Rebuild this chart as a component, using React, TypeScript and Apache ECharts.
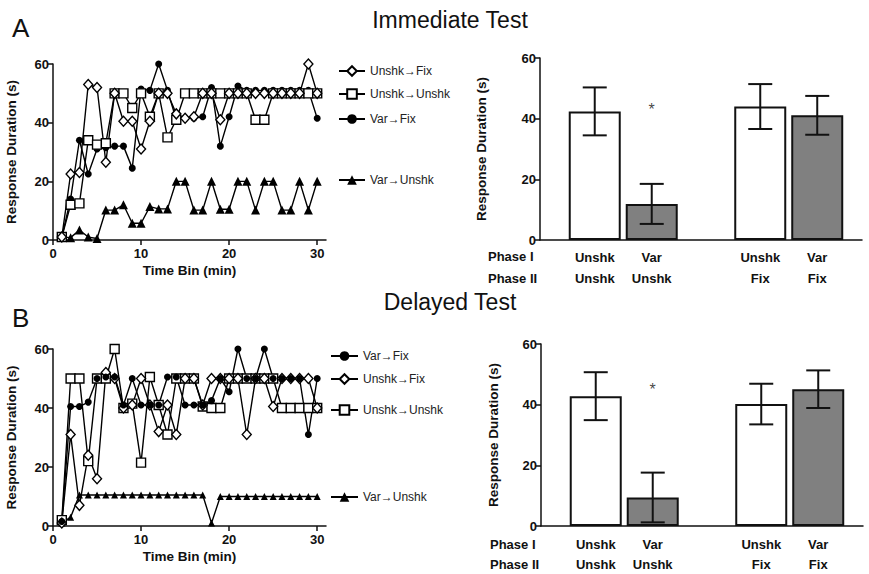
import React, { useEffect, useRef } from 'react';
import * as echarts from 'echarts';

// ---------- Data ----------
const timeBins = [1, 2, 3, 4, 5, 6, 7, 8, 9, 10, 11, 12, 13, 14, 15, 16, 17, 18, 19, 20, 21, 22, 23, 24, 25, 26, 27, 28, 29, 30];

// A: Immediate Test (line panel)
const immUnshkFix = [1, 22.5, 23, 53, 52, 26.5, 50, 40.5, 40.5, 31, 40.5, 50, 50, 43, 41.5, 42, 50, 50, 41, 50, 50, 50, 50, 50, 50, 50, 50, 50, 60, 50];
const immUnshkUnshk = [1, 12, 12.5, 34, 32.5, 33, 50, 50, 45, 50, 42, 50, 35, 41, 50, 50, 50, 50, 50, 50, 50, 50, 41, 41, 50, 50, 50, 50, 50, 50];
const immVarFix = [1, 14, 34, 22.5, 31, 31.5, 32, 32, 24.5, 51.5, 51, 60, 51, 41, 41.5, 41.5, 42, 52, 32, 42, 52.5, 51, 51, 51, 51, 51, 51, 51, 51, 41.5];
const immVarUnshk = [1, 0.8, 3.4, 1, 0.5, 10.2, 10.2, 12, 5.7, 5.7, 11.4, 10.6, 10.6, 20, 20, 10.2, 10.2, 20, 10.5, 10.5, 20, 20, 10.2, 20, 20, 10.2, 10.2, 20, 10.2, 20];

// B: Delayed Test (line panel)
const delVarFix = [1.5, 40.5, 40.5, 42, 50, 50.5, 50.5, 41, 50, 41, 41, 41, 50.5, 50.5, 41, 41, 41, 42.5, 50, 45.5, 60, 50, 50, 60, 50, 50, 50, 50, 31, 50];
const delUnshkFix = [1, 31, 7, 24, 16, 52, 50, 40, 41, 50, 41, 32, 41, 31, 50, 50, 41, 50, 50, 50, 50, 31, 50, 50, 40.5, 50, 50, 50, 50, 40];
const delUnshkUnshk = [2, 50, 50, 22, 50, 50, 60, 40, 41.5, 21.5, 50.5, 41, 31, 50, 50, 50, 40.5, 40, 40, 50, 50, 50, 50, 50, 50, 40, 40, 40, 40, 40];
const delVarUnshk = [1, 3, 10.5, 10.5, 10.5, 10.5, 10.5, 10.5, 10.5, 10.5, 10.5, 10.5, 10.5, 10.5, 10.5, 10.5, 10.5, 1, 10, 10, 10, 10, 10, 10, 10, 10, 10, 10, 10, 10];

// Bar panels
const phaseI = ['Unshk', 'Var', 'Unshk', 'Var'];
const phaseII = ['Unshk', 'Unshk', 'Fix', 'Fix'];
const immMeans = [42.4, 11.9, 44, 41.1];
const immSEM = [7.9, 6.6, 7.4, 6.4];
const delMeans = [42.8, 9.4, 40.2, 45.1];
const delSEM = [7.9, 8.2, 6.7, 6.2];
const immStar = 44;
const delStar = 46;

const xTicks = [0, 10, 20, 30];

// ---------- Styles ----------
const FONT = '"Liberation Sans", Arial, Helvetica, sans-serif';
const INK = '#111';

const seriesStyle: Record<string, any> = {
  'Unshk→Fix': { symbol: 'diamond', symbolSize: [9, 10], itemStyle: { color: '#fff', borderColor: '#000', borderWidth: 1.4 } },
  'Unshk→Unshk': { symbol: 'rect', symbolSize: 9, itemStyle: { color: '#fff', borderColor: '#000', borderWidth: 1.4 } },
  'Var→Fix': { symbol: 'circle', symbolSize: 7, itemStyle: { color: '#000' } },
  'Var→Unshk': { symbol: 'triangle', symbolSize: 9, itemStyle: { color: '#000' } },
};

function lineSeries(name: string, values: number[], axisIdx: number, triSize?: number) {
  const s = seriesStyle[name];
  return {
    type: 'line',
    name,
    xAxisIndex: axisIdx,
    yAxisIndex: axisIdx,
    data: timeBins.map((t, i) => [t, values[i]]),
    symbol: s.symbol,
    symbolSize: triSize ?? s.symbolSize,
    showAllSymbol: true,
    itemStyle: s.itemStyle,
    lineStyle: { color: '#000', width: 1.4 },
    z: 3,
  };
}

const barPos = [1.7, 3.47, 6.84, 8.61];
const barFill = ['#ffffff', '#808080', '#ffffff', '#808080'];

function barSeries(means: number[], axisIdx: number, lineH: number, dist: number) {
  return {
    type: 'bar',
    xAxisIndex: axisIdx,
    yAxisIndex: axisIdx,
    barWidth: 52,
    data: means.map((m, i) => ({ value: [barPos[i], m], itemStyle: { color: barFill[i] } })),
    itemStyle: { borderColor: '#111', borderWidth: 2 },
    label: {
      show: true,
      position: 'bottom',
      distance: dist,
      formatter: (p: any) => phaseI[p.dataIndex] + '\n' + phaseII[p.dataIndex],
      fontFamily: FONT,
      fontWeight: 'bold',
      fontSize: 13,
      lineHeight: lineH,
      color: INK,
    },
    z: 2,
  };
}

function errSeries(means: number[], sem: number[], axisIdx: number) {
  return {
    type: 'custom',
    xAxisIndex: axisIdx,
    yAxisIndex: axisIdx,
    data: means.map((m, i) => [barPos[i], m - sem[i], m + sem[i]]),
    renderItem: (params: any, api: any) => {
      const lo = api.coord([api.value(0), api.value(1)]);
      const hi = api.coord([api.value(0), api.value(2)]);
      const hw = 12;
      const st = { stroke: '#111', lineWidth: 2 };
      return {
        type: 'group',
        children: [
          { type: 'line', shape: { x1: lo[0], y1: lo[1], x2: hi[0], y2: hi[1] }, style: st },
          { type: 'line', shape: { x1: lo[0] - hw, y1: lo[1], x2: lo[0] + hw, y2: lo[1] }, style: st },
          { type: 'line', shape: { x1: hi[0] - hw, y1: hi[1], x2: hi[0] + hw, y2: hi[1] }, style: st },
        ],
      };
    },
    z: 5,
  };
}

function starSeries(v: number, axisIdx: number) {
  return {
    type: 'scatter',
    xAxisIndex: axisIdx,
    yAxisIndex: axisIdx,
    data: [[barPos[1], v]],
    symbolSize: 1,
    itemStyle: { color: 'rgba(0,0,0,0)' },
    label: { show: true, position: 'inside', formatter: '*', fontSize: 16, color: INK, fontFamily: FONT, offset: [0, 3] },
  };
}

const tickLabel = { fontFamily: FONT, fontWeight: 'bold' as const, fontSize: 13, color: INK };
const nameStyle = { fontFamily: FONT, fontWeight: 'bold' as const, fontSize: 13.5, color: INK };
const axisLine = { show: true, lineStyle: { color: '#111', width: 1.5 } };
const axisTick = { show: true, length: 5, lineStyle: { color: '#111', width: 1.5 } };

function lineX(gridIndex: number) {
  return {
    type: 'value', gridIndex, min: 0, max: 31,
    name: 'Time Bin (min)', nameLocation: 'middle', nameGap: 23,
    nameTextStyle: nameStyle,
    axisLine, axisTick: { ...axisTick, customValues: xTicks },
    axisLabel: { ...tickLabel, margin: 7, customValues: xTicks },
    splitLine: { show: false },
  };
}
function yAx(gridIndex: number, nameGap: number) {
  return {
    type: 'value', gridIndex, min: 0, max: 60, interval: 20,
    name: 'Response Duration (s)', nameLocation: 'middle', nameGap, nameRotate: 90,
    nameTextStyle: nameStyle,
    axisLine, axisTick, axisLabel: { ...tickLabel, margin: 4 },
    splitLine: { show: false },
  };
}
function barX(gridIndex: number) {
  return {
    type: 'value', gridIndex, min: 0, max: 10,
    axisLine, axisTick: { show: false }, axisLabel: { show: false }, splitLine: { show: false },
  };
}

function legendItem(name: string, left: number, cy: number, w: number) {
  return {
    data: [name], left, top: cy - 6, itemWidth: w, itemHeight: 12, padding: 0,
    selectedMode: false,
    textStyle: { fontFamily: FONT, fontSize: 12, color: '#222' },
  };
}

function text(t: string, x: number, y: number, size: number, weight: string, align = 'left') {
  return {
    type: 'text', x, y,
    style: { text: t, fontSize: size, fontWeight: weight, fontFamily: FONT, fill: INK, align, verticalAlign: 'middle' },
  };
}

export default function App() {
  const ref = useRef<HTMLDivElement>(null);
  useEffect(() => {
    if (!ref.current) return;
    const chart = echarts.init(ref.current, undefined, { renderer: 'svg' });
    chart.setOption({
      animation: false,
      backgroundColor: '#fff',
      grid: [
        { left: 53, top: 64, width: 273, height: 176 },
        { left: 540, top: 58, width: 322, height: 182 },
        { left: 53, top: 349, width: 273, height: 177 },
        { left: 541, top: 344, width: 322, height: 182 },
      ],
      xAxis: [lineX(0), barX(1), lineX(2), barX(3)],
      yAxis: [yAx(0, 35), yAx(1, 52), yAx(2, 35), yAx(3, 41)],
      legend: [
        legendItem('Unshk→Fix', 338, 71, 26),
        legendItem('Unshk→Unshk', 338, 94, 26),
        legendItem('Var→Fix', 338, 119, 26),
        legendItem('Var→Unshk', 338, 180, 26),
        legendItem('Var→Fix', 330, 356, 27),
        legendItem('Unshk→Fix', 330, 379, 27),
        legendItem('Unshk→Unshk', 330, 410, 27),
        legendItem('Var→Unshk', 330, 497, 27),
      ],
      graphic: [
        text('A', 12, 28, 26, 'normal'),
        text('B', 12, 318, 26, 'normal'),
        text('Immediate Test', 450, 20, 23, 'normal', 'center'),
        text('Delayed Test', 450, 302, 23, 'normal', 'center'),
        text('Phase I', 488, 256, 13, 'bold'),
        text('Phase II', 488, 278, 13, 'bold'),
        text('Phase I', 490, 544, 13, 'bold'),
        text('Phase II', 490, 564, 13, 'bold'),
      ],
      series: [
        lineSeries('Var→Unshk', immVarUnshk, 0),
        lineSeries('Var→Fix', immVarFix, 0),
        lineSeries('Unshk→Unshk', immUnshkUnshk, 0),
        lineSeries('Unshk→Fix', immUnshkFix, 0),
        lineSeries('Var→Unshk', delVarUnshk, 2, 7),
        lineSeries('Unshk→Unshk', delUnshkUnshk, 2),
        lineSeries('Unshk→Fix', delUnshkFix, 2),
        lineSeries('Var→Fix', delVarFix, 2),
        barSeries(immMeans, 1, 21, 7),
        errSeries(immMeans, immSEM, 1),
        starSeries(immStar, 1),
        barSeries(delMeans, 3, 20, 8),
        errSeries(delMeans, delSEM, 3),
        starSeries(delStar, 3),
      ],
    });
    return () => chart.dispose();
  }, []);
  return <div ref={ref} style={{ position: 'fixed', left: 0, top: 0, width: 869, height: 574, background: '#fff' }} />;
}
